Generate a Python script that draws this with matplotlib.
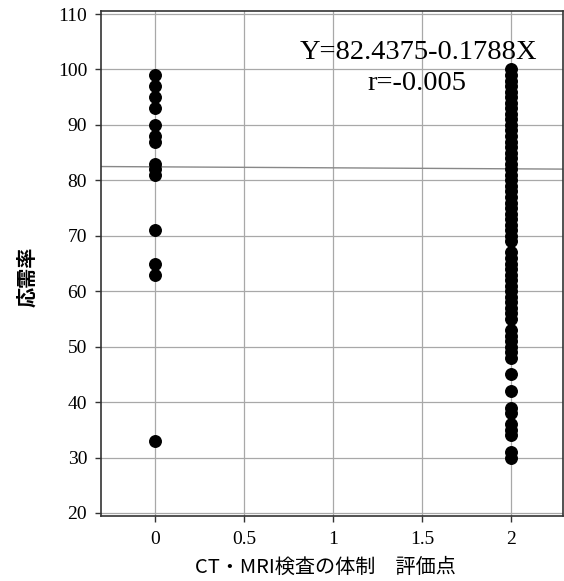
import matplotlib
matplotlib.use("Agg")
import matplotlib.pyplot as plt
import numpy as np

# Data
x0_values = [99, 97, 95, 93, 90, 88, 87, 83, 82, 81, 71, 65, 63, 33]
x2_values = (list(range(69, 101)) + list(range(55, 68)) + list(range(48, 54))
             + [45, 42, 39, 38, 36, 35, 34, 31, 30])
intercept = 82.4375
slope = -0.1788
r_value = -0.005
xticks = [0, 0.5, 1, 1.5, 2]
xtick_labels = ["0", "0.5", "1", "1.5", "2"]
yticks = [20, 30, 40, 50, 60, 70, 80, 90, 100, 110]

fig = plt.figure(figsize=(5.64, 5.81), dpi=100)
ax = fig.add_axes([101/564, 1-516/581, (563-101)/564, (516-11)/581])

xs = [0]*len(x0_values) + [2]*len(x2_values)
ys = x0_values + x2_values
ax.plot(xs, ys, 'o', color='black', markersize=8.3, zorder=3)

xlim = (-0.303, 2.292)
ax.set_xlim(*xlim)
ax.set_ylim(19.45, 110.55)
lx = np.array(xlim)
ax.plot(lx, intercept + slope*lx, color='#888888', linewidth=1.0, zorder=2)

ax.set_xticks(xticks)
ax.set_xticklabels(xtick_labels)
ax.set_yticks(yticks)
ax.grid(True, color='#a8a8a8', linewidth=0.9, zorder=0)
ax.set_axisbelow(True)
for s in ax.spines.values():
    s.set_color('#333333')
    s.set_linewidth(1.2)
ax.tick_params(direction='out', length=4, width=1, color='#333333')
ax.tick_params(axis='x', pad=7)
ax.tick_params(axis='y', pad=6)
for lab in ax.get_xticklabels() + ax.get_yticklabels():
    lab.set_family('Liberation Serif')
    lab.set_fontsize(14)

ax.set_xlabel("CT・MRI検査の体制　評価点", family=['Noto Sans CJK JP', 'DejaVu Sans'],
              fontsize=14.5)
ax.xaxis.set_label_coords((325-101)/462, (516-567)/505)
ax.xaxis.label.set_va('center')
ax.set_ylabel("応需率", family=['Noto Sans CJK JP', 'DejaVu Sans'], fontsize=14.5,
              fontweight='bold')
ax.yaxis.set_label_coords((27-101)/462, (516-277)/505)
ax.yaxis.label.set_va('center')

ax.text(2.0 - (511-418)/178, 110 - (52-14)/5.544, f"Y={intercept}{slope}X",
        family='Liberation Serif', fontsize=20.5, ha='center', va='center')
ax.text(2.0 - (511-417)/178, 110 - (83-14)/5.544, f"r={r_value}",
        family='Liberation Serif', fontsize=20.5, ha='center', va='center')

fig.savefig("out.png", dpi=100)
